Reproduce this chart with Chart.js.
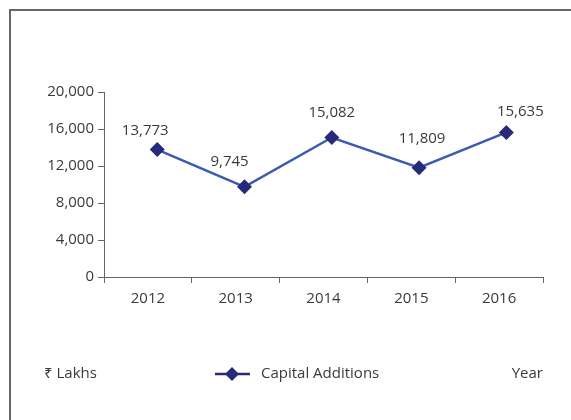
<!DOCTYPE html>
<html>
<head>
<meta charset="utf-8">
<script src="https://cdn.jsdelivr.net/npm/chart.js@4/dist/chart.umd.min.js"></script>
<style>
  html, body { margin: 0; padding: 0; background: #fff; overflow: hidden; }
  #frame { position: absolute; left: 9px; top: 9px; width: 620px; height: 470px; border: 2px solid #666; }
  #chart { position: absolute; left: 0; top: 0; }
</style>
</head>
<body>
<div id="frame"></div>
<canvas id="chart" width="571" height="420"></canvas>
<script>
// Capital additions, Rs lakhs
const years = [2012, 2013, 2014, 2015, 2016];
const yearLabels = ["2012", "2013", "2014", "2015", "2016"];
const capitalAdditions = [13773, 9745, 15082, 11809, 15635];
const yTicks = [0, 4000, 8000, 12000, 16000, 20000];

const FONT = "'Open Sans', 'Noto Sans', sans-serif";
const FSIZE = 15;
const TEXT = "#3a3a3a";
const LINE = "#3b5bb3";
const MARK = "#262a78";

// where each value label sits relative to its marker
const labelShift = [[-12, 19], [-15, 25], [0, 25], [3, 29], [14, 21]];

const labelsPlugin = {
  id: "valueLabels",
  afterDatasetsDraw(chart) {
    const ctx = chart.ctx;
    const pts = chart.getDatasetMeta(0).data;
    ctx.save();
    ctx.font = FSIZE + "px " + FONT;
    ctx.fillStyle = TEXT;
    ctx.textAlign = "center";
    ctx.textBaseline = "middle";
    pts.forEach((p, i) => {
      ctx.fillText(capitalAdditions[i].toLocaleString("en-US"), p.x + labelShift[i][0], p.y - labelShift[i][1]);
    });
    ctx.restore();
  }
};

const legendPlugin = {
  id: "bottomLegend",
  afterDraw(chart) {
    const ctx = chart.ctx;
    const y = 374;
    ctx.save();
    ctx.font = FSIZE + "px " + FONT;
    ctx.fillStyle = TEXT;
    ctx.textBaseline = "middle";
    ctx.textAlign = "left";
    ctx.fillText("₹ Lakhs", 44, y);
    ctx.fillText(chart.data.datasets[0].label, 261, y);
    ctx.textAlign = "right";
    ctx.fillText("Year", 543, y);
    ctx.strokeStyle = MARK;
    ctx.lineWidth = 2.5;
    ctx.beginPath();
    ctx.moveTo(215, y);
    ctx.lineTo(250, y);
    ctx.stroke();
    ctx.fillStyle = MARK;
    ctx.beginPath();
    ctx.moveTo(232, y - 7);
    ctx.lineTo(239, y);
    ctx.lineTo(232, y + 7);
    ctx.lineTo(225, y);
    ctx.closePath();
    ctx.fill();
    ctx.restore();
  }
};

new Chart(document.getElementById("chart"), {
  type: "line",
  data: {
    labels: yearLabels,
    datasets: [{
      label: "Capital Additions",
      data: years.map((yr, i) => ({ x: yr, y: capitalAdditions[i] })),
      xAxisID: "xl",
      borderColor: LINE,
      borderWidth: 2.5,
      pointStyle: "rectRot",
      pointRadius: 7.5,
      pointBackgroundColor: MARK,
      pointBorderColor: MARK,
      pointBorderWidth: 0,
      tension: 0
    }]
  },
  options: {
    responsive: false,
    animation: false,
    layout: { padding: { left: 0, right: 28, top: 92, bottom: 0 } },
    plugins: { legend: { display: false }, tooltip: { enabled: false } },
    scales: {
      x: {
        type: "category",
        offset: true,
        border: { color: "#666", width: 1 },
        grid: { offset: true, drawOnChartArea: false, tickLength: 6, color: "#666" },
        ticks: { color: TEXT, font: { family: FONT, size: FSIZE }, padding: 7 },
        afterFit(s) { s.height = 143; }
      },
      xl: {
        type: "linear",
        display: false,
        min: 2011.39,
        max: 2016.42
      },
      y: {
        min: 0,
        max: 20000,
        afterBuildTicks(s) { s.ticks = yTicks.map(v => ({ value: v })); },
        border: { color: "#666", width: 1 },
        grid: { drawOnChartArea: false, tickLength: 6, color: "#666" },
        ticks: {
          color: TEXT,
          font: { family: FONT, size: FSIZE },
          padding: 4,
          callback: v => v.toLocaleString("en-US")
        },
        afterFit(s) { s.width = 104; }
      }
    }
  },
  plugins: [labelsPlugin, legendPlugin]
});
</script>
</body>
</html>
